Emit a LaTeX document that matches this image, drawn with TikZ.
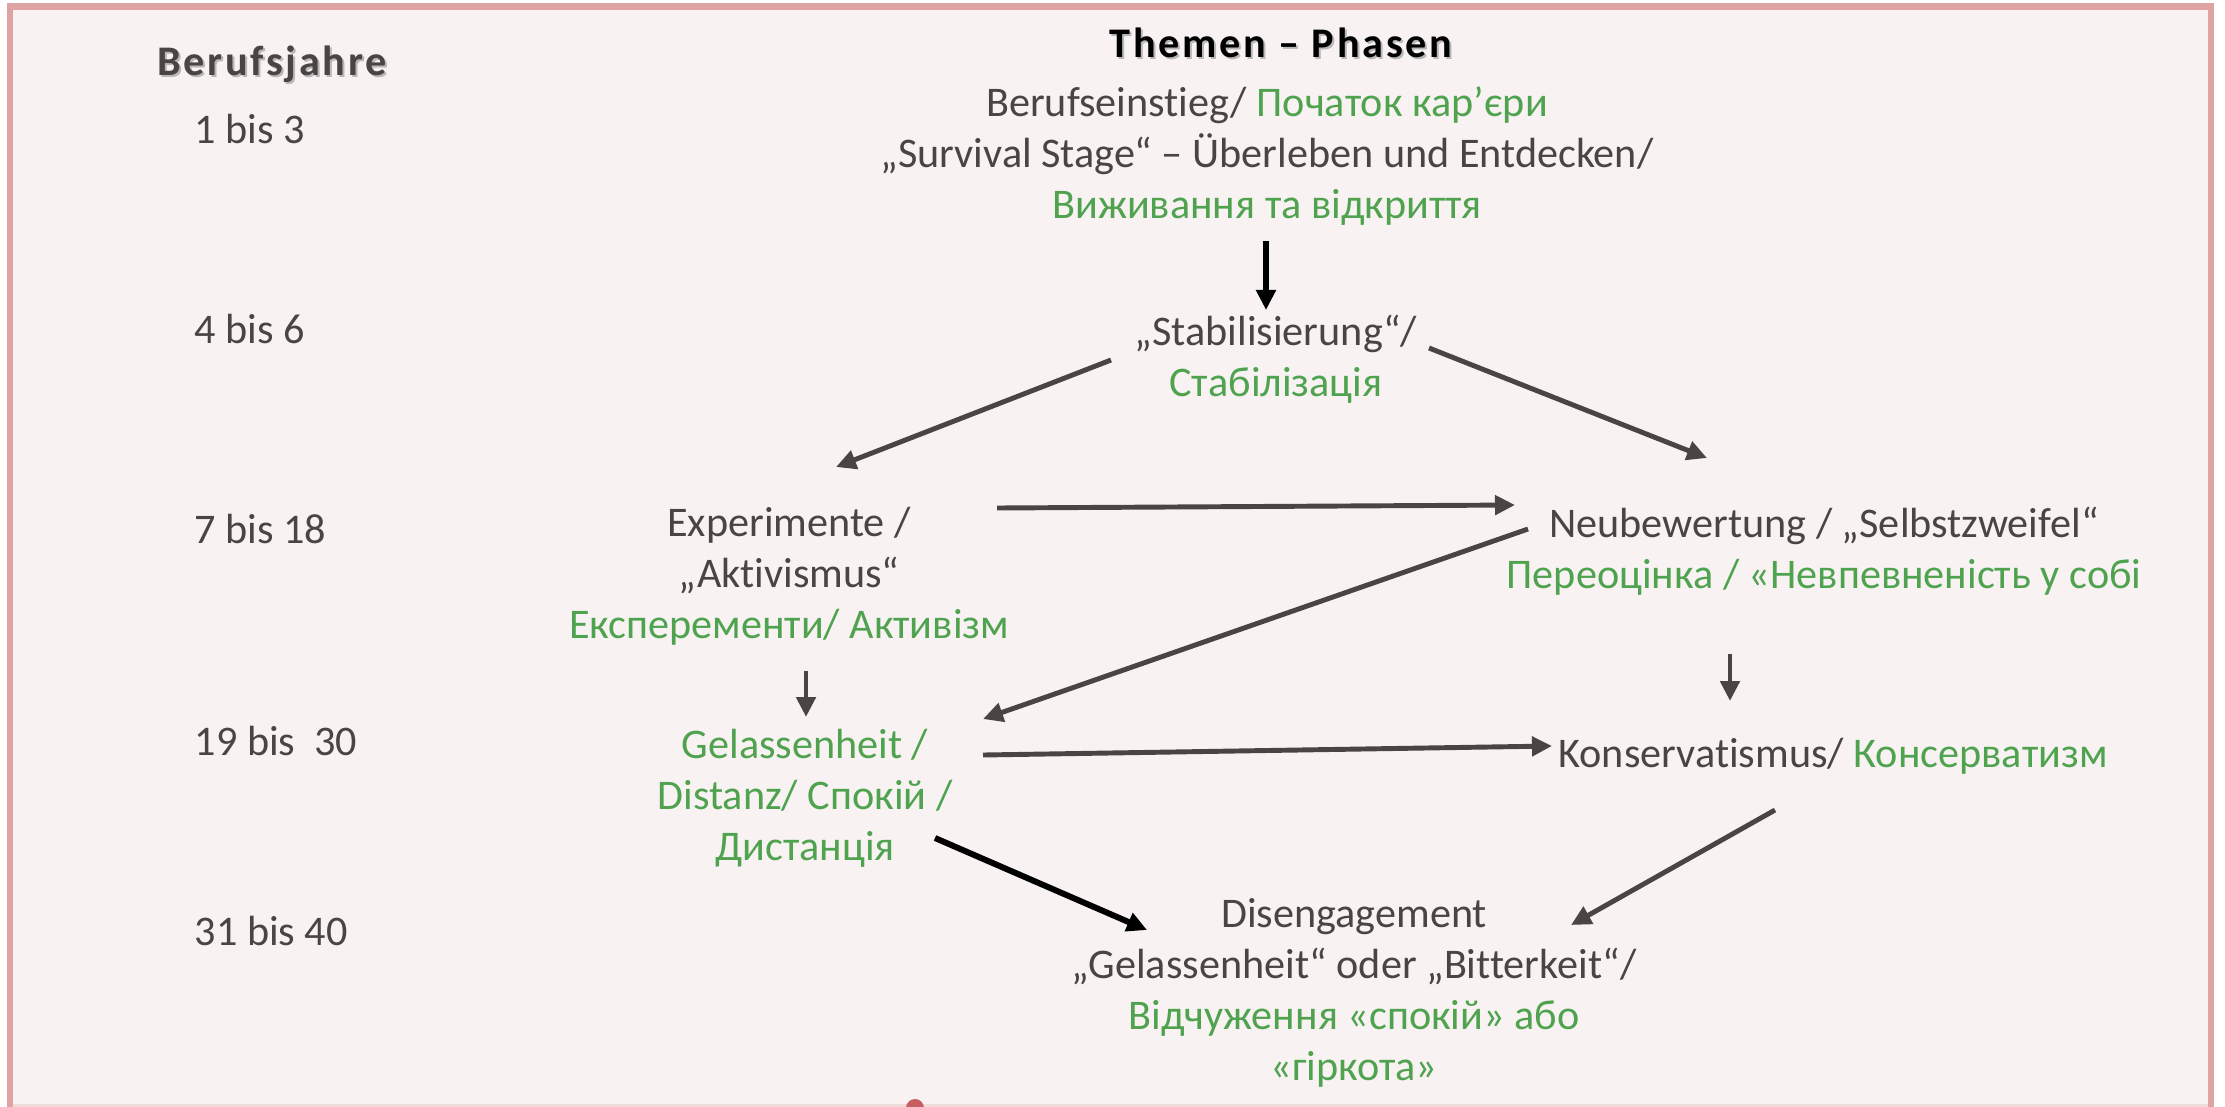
\documentclass[tikz,border=0pt]{standalone}
\usepackage{fontspec}
\setmainfont{Carlito}[Ligatures=NoCommon]
\usetikzlibrary{calc, arrows.meta}
\definecolor{phpink}{HTML}{E0A3A3}
\definecolor{phbg}{HTML}{F8F2F2}
\definecolor{phgray}{HTML}{4A4444}
\definecolor{phgreen}{HTML}{4FA34F}
\definecolor{phdot}{HTML}{C65F62}
\newcommand{\ua}[1]{\textcolor{phgreen}{#1}}
\newcommand{\headfont}{\fontsize{12}{14.5}\selectfont\bfseries\addfontfeature{LetterSpace=6.5}}

\begin{document}
\begin{tikzpicture}[x=0.01cm, y=-0.01cm,
  phase/.style={align=center, text=phgray, font=\fontsize{12}{14.5}\selectfont, inner sep=0pt},
  yearlabel/.style={anchor=west, text=phgray, font=\fontsize{12}{14.5}\selectfont, inner sep=0pt},
  headshadow/.style={text=black!28, font=\headfont, inner sep=0pt},
  grayarr/.style={draw=phgray, line width=1.4pt, -{Triangle[length=0.2cm, width=0.19cm]}},
  blackarr/.style={draw=black, line width=1.7pt, -{Triangle[length=0.2cm, width=0.19cm]}}]
  \useasboundingbox (0,0) rectangle (2225,1106);
  \clip (0,0) rectangle (2225,1106);
  % Rahmen
  \fill[white] (0,0) rectangle (2225,1106);
  \fill[phbg] (10,6) rectangle (2211,1106);
  \draw[phpink, line width=0.065cm] (10,6.5) rectangle (2211,1130);
  \draw[phbg!70!phpink, line width=0.03cm] (13,1105) -- (2208,1105);
  \fill[phdot] (915,1108) circle (9);
  % Kopfzeilen
  \node[headshadow] at (274,66) {Berufsjahre};
  \node (jahre) [inner sep=0pt, text=phgray, font=\headfont] at (272,64) {Berufsjahre};
  \node[headshadow] at (1283,45) {Themen – Phasen};
  \node (themen) [inner sep=0pt, text=black, font=\headfont] at (1281,43) {Themen – Phasen};
  % Berufsjahre
  \node (y1) [yearlabel] at (194,129) {1 bis 3};
  \node (y2) [yearlabel] at (194,329) {4 bis 6};
  \node (y3) [yearlabel] at (194,529) {7 bis 18};
  \node (y4) [yearlabel] at (194,741) {19 bis\ \ 30};
  \node (y5) [yearlabel] at (194,931) {31 bis 40};
  % Phasen
  \node (phase1) [phase] at (1267,156) {Berufseinstieg/ \ua{Початок кар’єри}\\„Survival Stage“ – Überleben und Entdecken/\\\ua{Виживання та відкриття}};
  \node (stab) [phase] at (1276,359) {„Stabilisierung“/\\\ua{Стабілізація}};
  \node (exper) [phase] at (789,576) {Experimente /\\„Aktivismus“\\\ua{Експеременти/ Активізм}};
  \node (neu) [phase] at (1824,551) {Neubewertung / „Selbstzweifel“\\\ua{Переоцінка / «Невпевненість у собі}};
  \node (gel) [phase, text=phgreen] at (805,798) {Gelassenheit /\\Distanz/ Спокій /\\Дистанція};
  \node (kons) [phase] at (1833,756) {Konservatismus/ \ua{Консерватизм}};
  \node (dis) [phase] at (1354,993) {Disengagement\\„Gelassenheit“ oder „Bitterkeit“/\\\ua{Відчуження «спокій» або}\\\ua{«гіркота»}};
  % Pfeile
  \draw[blackarr] ($(phase1.center)+(-1,85)$) -- ($(stab.center)+(-10,-49)$);
  \draw[grayarr] ($(stab.center)+(-165,1)$) -- ($(exper.center)+(47,-109)$);
  \draw[grayarr] ($(stab.center)+(153,-11)$) -- ($(neu.center)+(-117,-93)$);
  \draw[grayarr] ($(exper.center)+(208,-68)$) -- ($(neu.center)+(-309,-46)$);
  \draw[grayarr] ($(neu.center)+(-296,-22)$) -- ($(gel.center)+(178,-79)$);
  \draw[grayarr] ($(exper.center)+(17,95)$) -- ($(gel.center)+(1,-81)$);
  \draw[grayarr] ($(neu.center)+(-94,103)$) -- ($(kons.center)+(-103,-55)$);
  \draw[grayarr] ($(gel.center)+(178,-43)$) -- ($(kons.center)+(-281,-10)$);
  \draw[blackarr] ($(gel.center)+(130,40)$) -- ($(dis.center)+(-207,-63)$);
  \draw[grayarr] ($(kons.center)+(-58,54)$) -- ($(dis.center)+(217,-68)$);
\end{tikzpicture}
\end{document}
